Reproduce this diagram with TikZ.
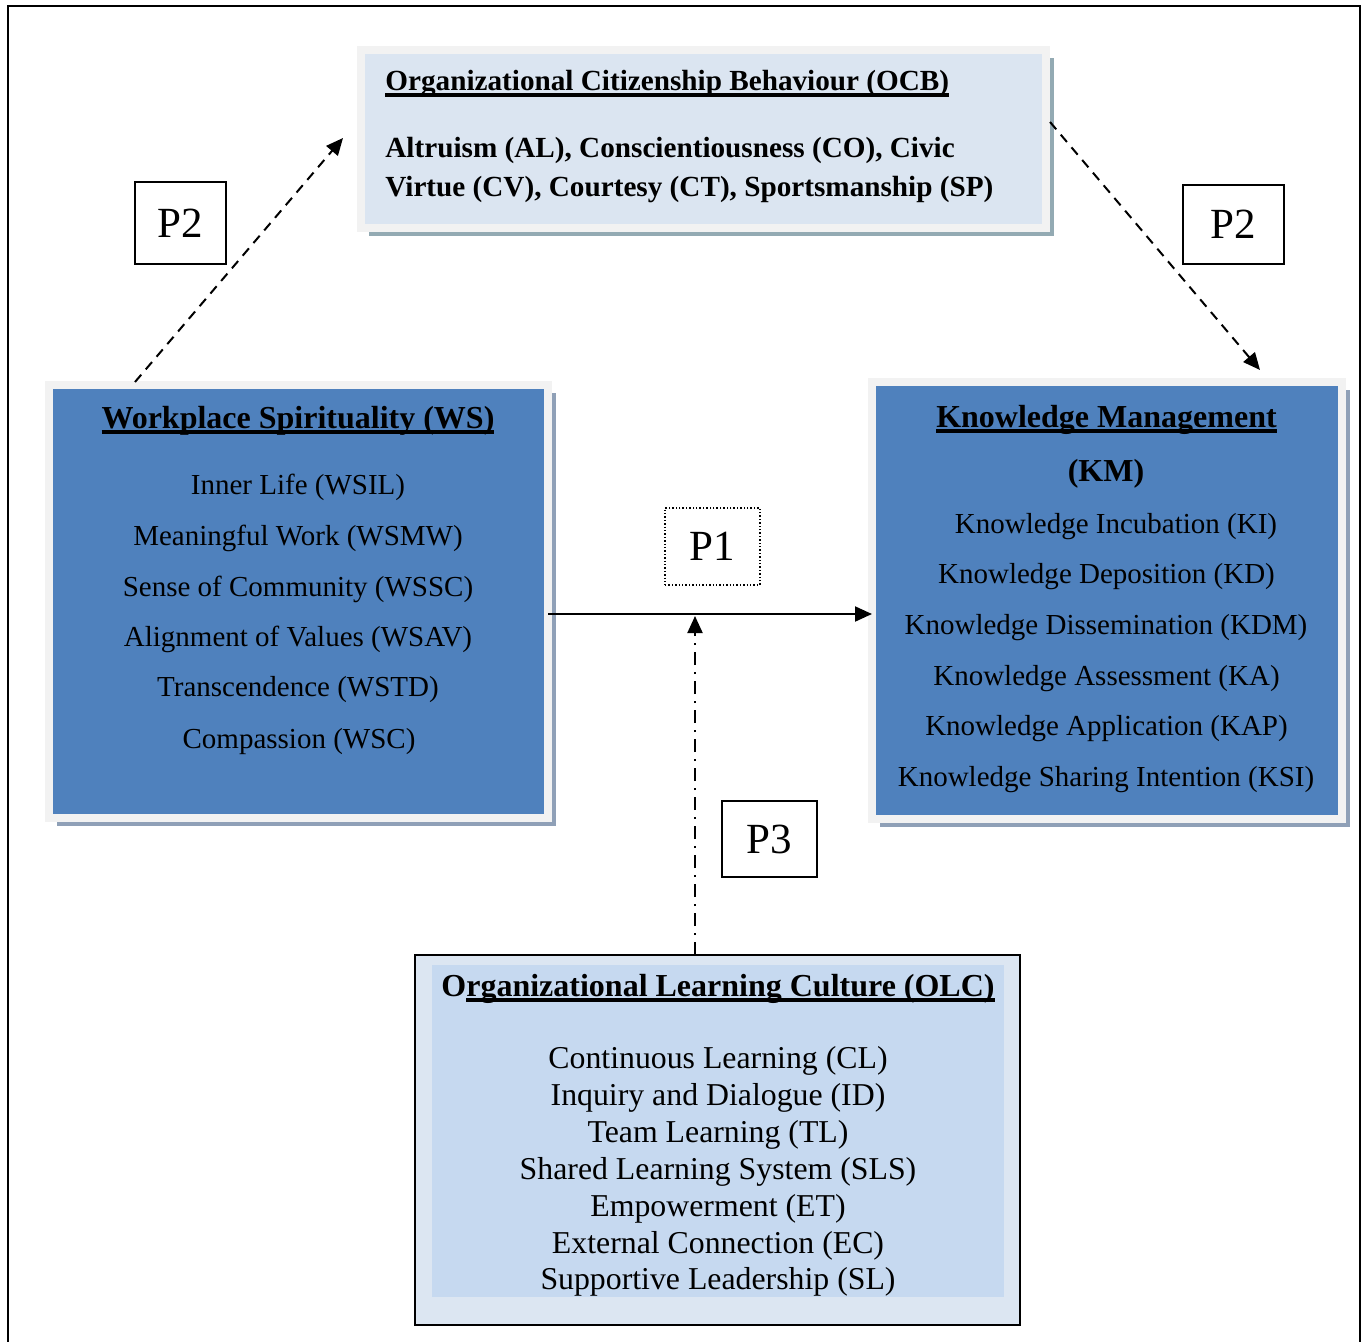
\documentclass[tikz,border=0pt]{standalone}
\usepackage{fontspec}
\setmainfont{Liberation Serif}
\usetikzlibrary{arrows.meta,shadows,calc}

\definecolor{wsblue}{HTML}{4F81BD}
\definecolor{framegray}{HTML}{F2F2F2}
\definecolor{boxshade}{HTML}{8FA0B7}
\definecolor{ocbshade}{HTML}{93AAB3}
\definecolor{ocbfill}{HTML}{DBE5F1}
\definecolor{olcouter}{HTML}{DCE6F2}
\definecolor{olcinner}{HTML}{C6D9F0}

\newcommand{\ulbar}[1]{\setbox0=\hbox{#1}\rlap{\rule[-2.8pt]{\wd0}{1.6pt}}\box0}

\begin{document}
\begin{tikzpicture}[x=0.5pt,y=0.5pt,yscale=-1,xscale=1,
  bigbox/.style={draw=framegray, line width=4pt, outer sep=0pt, inner sep=0pt},
  item/.style={font=\fontsize{14.5pt}{17pt}\selectfont, inner sep=0pt},
  head/.style={font=\fontsize{16pt}{19pt}\selectfont\bfseries, inner sep=0pt, anchor=base},
  ocbtxt/.style={font=\fontsize{14.6pt}{17pt}\selectfont\bfseries, inner sep=0pt, anchor=base west},
  olcitem/.style={font=\fontsize{15.9pt}{19pt}\selectfont, inner sep=0pt},
  pbox/.style={draw, line width=0.7pt, outer sep=0pt, font=\fontsize{21.5pt}{25pt}\selectfont},
  link/.style={line width=1pt, -{Triangle[length=8.5pt,width=7.5pt]}}
]
\useasboundingbox (0,0) rectangle (1364,1342);

%Shape: Frame
\draw [line width=1pt] (8,1342) -- (8,6) -- (1360,6) -- (1360,1342) ;

%Shape: Rectangle OCB
\node [bigbox, fill=ocbfill, drop shadow={shadow xshift=4pt,shadow yshift=-4pt,fill=ocbshade,opacity=1}, minimum width=342.5pt, minimum height=89.25pt] (ocb) at (703.5,139.25) {};
%Shape: Rectangle WS
\node [bigbox, fill=wsblue, drop shadow={shadow xshift=4pt,shadow yshift=-4pt,fill=boxshade,opacity=1}, minimum width=249.5pt, minimum height=216.25pt] (ws) at (298.5,601.25) {};
%Shape: Rectangle KM
\node [bigbox, fill=wsblue, drop shadow={shadow xshift=4pt,shadow yshift=-4pt,fill=boxshade,opacity=1}, minimum width=234.75pt, minimum height=218.5pt] (km) at (1106.75,600.5) {};
%Shape: Rectangle OLC
\node [draw, line width=0.9pt, outer sep=0pt, fill=olcouter, minimum width=302.5pt, minimum height=185pt] (olc) at (717.5,1140) {};
\node [fill=olcinner, inner sep=0pt, minimum width=286pt, minimum height=166pt] (olcin) at (718,1131) {};

% Text Node
\draw (385,91) node [ocbtxt] (ocbt) {\ulbar{Organizational Citizenship Behaviour (OCB)}};
% Text Node
\draw (385,158) node [ocbtxt] (ocb1) {Altruism (AL), Conscientiousness (CO), Civic};
% Text Node
\draw (385,197) node [ocbtxt] (ocb2) {Virtue (CV), Courtesy (CT), Sportsmanship (SP)};

% Text Node
\draw (298,428) node [head] (wst) {\ulbar{Workplace Spirituality (WS)}};
% Text Node
\draw (298,487) node [item] (ws1) {Inner Life (WSIL)};
% Text Node
\draw (298,538) node [item] (ws2) {Meaningful Work (WSMW)};
% Text Node
\draw (298,589) node [item] (ws3) {Sense of Community (WSSC)};
% Text Node
\draw (298,639) node [item] (ws4) {Alignment of Values (WSAV)};
% Text Node
\draw (298,690) node [item] (ws5) {Transcendence (WSTD)};
% Text Node
\draw (299,742) node [item] (ws6) {Compassion (WSC)};

% Text Node
\draw (1106.5,427) node [head] (kmt) {\ulbar{Knowledge Management}};
% Text Node
\draw (1106,481) node [head] (kmt2) {(KM)};
% Text Node
\draw (1116,527) node [item] (km1) {Knowledge Incubation (KI)};
% Text Node
\draw (1106.5,577) node [item] (km2) {Knowledge Deposition (KD)};
% Text Node
\draw (1106,628) node [item] (km3) {Knowledge Dissemination (KDM)};
% Text Node
\draw (1106.5,679) node [item] (km4) {Knowledge Assessment (KA)};
% Text Node
\draw (1106.5,729) node [item] (km5) {Knowledge Application (KAP)};
% Text Node
\draw (1106,780) node [item] (km6) {Knowledge Sharing Intention (KSI)};

% Text Node
\draw (718,996) node [head] (olct) {O\ulbar{rganizational Learning Culture (OLC)}};
% Text Node
\draw (718,1061) node [olcitem] (olc1) {Continuous Learning (CL)};
% Text Node
\draw (718,1098) node [olcitem] (olc2) {Inquiry and Dialogue (ID)};
% Text Node
\draw (718,1135) node [olcitem] (olc3) {Team Learning (TL)};
% Text Node
\draw (718,1172) node [olcitem] (olc4) {Shared Learning System (SLS)};
% Text Node
\draw (718,1209) node [olcitem] (olc5) {Empowerment (ET)};
% Text Node
\draw (718,1246) node [olcitem] (olc6) {External Connection (EC)};
% Text Node
\draw (718,1282) node [olcitem] (olc7) {Supportive Leadership (SL)};

%Shape: Rectangle P labels
\node [pbox, minimum width=45.5pt, minimum height=41pt] (p2l) at (180.5,223) {P2};
\node [pbox, minimum width=50.5pt, minimum height=39.5pt] (p2r) at (1233.5,224.5) {P2};
\node [pbox, dash pattern=on 0.7pt off 1pt, minimum width=47.5pt, minimum height=38.5pt] (p1) at (712.5,546.5) {P1};
\node [pbox, minimum width=47.5pt, minimum height=38pt] (p3) at (769.5,839) {P3};

\coordinate (p1y) at (0,614);
\coordinate (p3end) at (695,616);
\coordinate (ocbin) at (343,138);
\coordinate (kmin) at (1260,370);

%Straight Lines
\draw [link] (ws.east |- p1y) -- (km.west |- p1y) ;
%Straight Lines
\draw [link, dash pattern=on 6.5pt off 3.5pt on 1pt off 3.5pt] (olc.north -| p3end) -- (p3end) ;
%Straight Lines
\draw [link, dash pattern=on 4.8pt off 3.5pt] ($(ws.north west)+(86,-3)$) -- (ocbin) ;
%Straight Lines
\draw [link, dash pattern=on 4.8pt off 3.5pt] ($(ocb.north east)+(4,72)$) -- (kmin) ;

\end{tikzpicture}
\end{document}
